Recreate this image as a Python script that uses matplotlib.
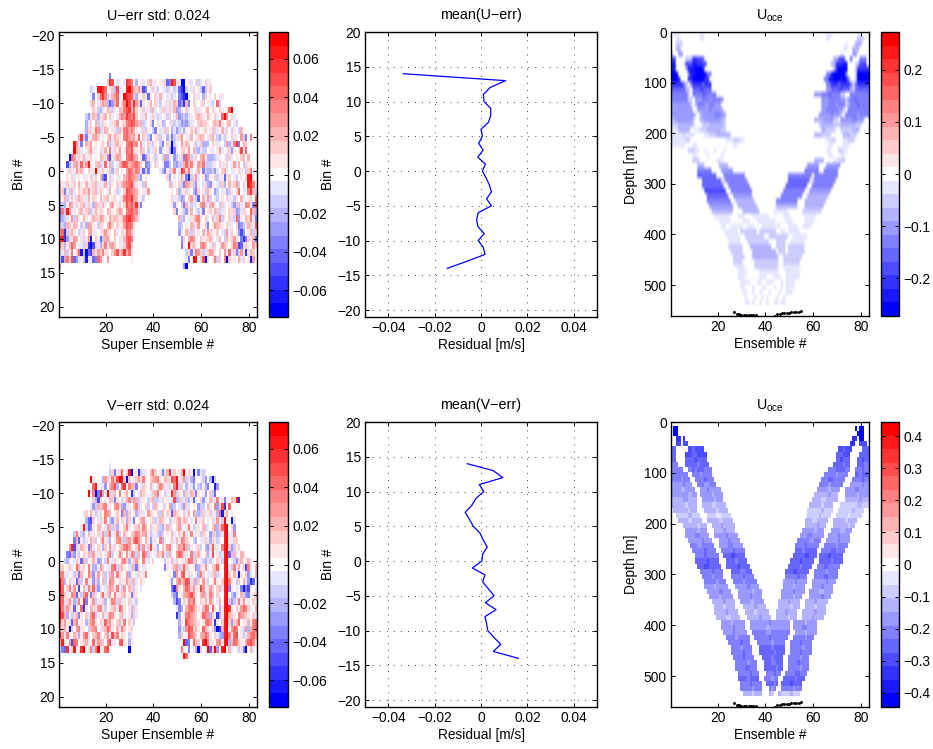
import re
import numpy as np
import matplotlib
matplotlib.use('Agg')
import matplotlib.pyplot as plt
from matplotlib.colors import ListedColormap

plt.rcParams['font.family'] = ['Liberation Sans', 'DejaVu Sans']
plt.rcParams['mathtext.default'] = 'regular'
plt.rcParams['font.size'] = 9.9
plt.rcParams['axes.linewidth'] = 1.0

# cell levels are run-length coded: a..j blue (-1..-10), A..J red (+1..+10), o zero, . no data
# the part after | is aligned to the right edge
# U-err, bins -14 to 14, 83 super ensembles
u_err_rows = [
    "21.e",
    "20. BHGoaAoaHG EocoAaoBCa AoAaBfeIGa ajjoAaoBba oBaA",
    "13. baoIJHFoaB cGaaoIJFCB DBgeoaBabo AabaAbafhj boaBoAbfbA Bo",
    "14. eoBFHEbaCD FaoJHGFBcA oBafAoBaCa oaAbaoeghj aoBAaocBoA oBoaA",
    "13. BCoaBDCcfd CFoBEJGCHD BfaoACoBab oAaBaCBfdh CeoBAoaBoA aboFb",
    "13. oBAbcaoCBb AoCBEGHCFB oaBaAbCaoa BBaBaCdcAo BaoABaAoBC oBAoBaoAFJ",
    "11. bdaCBcABCo BAoaCEDHFE GBoAaCoaBa baoAbBoaCd cbcaAoBCBA oCAoBaoFJE oBa",
    "11. caBoCbaBAo aABDoABEFG FDBCbaoBeo aAcboaBbab dcdbaAoBCB BAoBCBEAoB Coab",
    "10. AcBBAEDbaC BoAabCAEFD ECAoaBbAob eoaAbBocad bacAoBACao ABoAbBaoCa BobAobC",
    "8. CHbeAaCDBo AoBDaCBAoE FDCDAFoBab eoABbAocae baBDoAaCoA BCBoaBCAbc abAoBaAoDb eoE",
    "6. IDaeoCBDoA oABoDbaBCA AoEFGDEoDa oBabAobeoB ajbAoDaCBo AbaBcccoBA aAobDcaEHe oCB",
    "6. JCBaoABDaA oBaCoEaBAD oAFEGBAoCB obAaBodaoA cjeAoBBADo CbcabboAao ADaoaBdAoB GaF",
    "4. jFDaBACaAB oAoCBaEgaB DCAoEFGDCo AfdBoAbAob DcAodbaBeF DbABoCDAcc cbaAoAbBao AoBCoC",
    "3. gcaCDaFBDI AoBCbaFoCb oaCEGFCDEF DBoedaoBao AeebocdbbC FCEAoDCEbb baAoBaABoa DaCobBAAo",
    "1. AoaBAaDBCa oBaAJAaBoa BcaBoAoDFE CEDafbeo | aceAbBEoaH FBEaoaCAeb ccbdaoBCAo aAoBaAbBEa o",
    "oooAoBaoAo aAoBaBoCeg oBaoAaoCDF EDCbdoA | BdoAoaCAeh bBDaoAdcAo BbaAfaBoAb oAoBIJAo",
    "cAaBAaBoCA oCAaBCaAaC AbAoBaCDEF GCaoAbC | CbAoBbeDCB bdAoaBcdAo abBcoCABDb oBoIHEA",
    "bBeabCaoBA CBDABCaBAo aCoAbaoBGF EDCAoAaD | AoBcaABaoc eBoAbCAodb oaAcbAoBFo aAEHCb",
    "cACbaBaBCB AaCoBAoCaB CoABoAaEGF HDCoAbo | BaAbdcoBDA bfoCADboab oAoBaAbAoC aoABoF",
    "dbcADCaBAB CaBAcCBaCA oBDoABoBGE FDHBeo | AdAobeCAba aoDEbaCDAo bBaoAbdbCa oEDAeG",
    "fEbIDaAoBC aBCbaCABAo CBAoBDCoEF GDEao | BeoAbdACoa bAeoABoCBb aAoBaBdcaB AoFCc",
    "ecbaADbCAo CAoaCBBDCA oCBCBABEGH FECa | oCbcoaABDE AoBaoCaBEb AoBabFdAoC BEae",
    "BbcCBaCBob AcDCAobBAo CEBoBAADGF EAo | cboAoCBaDA oBeoADCBAo BaAoBedbaC BaF",
    "CFhbBCAoba BoCDaAoaBD BAoCaoBAFE Cao | dAoCBbBoAo CaDBAoBoab DaBoAdgdoA CbB",
    "GIhdBaDCoa BaDioBafbC DAoBoaACFG Ea | dBoCEDAoBA ABCAoaCobC ABDaoeheBA Cf",
    "EBcACFDoAa bBhjgBacBE aCDBoAaBFG B | eAoJBCAoDE CoAbBoaDCA oBEDgfaBAo DB",
    "BaCbAEoBFi bjfgCaDBEA AoBDGBDHCF A | bBeAEDBbaB DCAoBoDaFa BebDAhaCBo",
    "1. gDEBGfdaAb iaAfeFDAoD 9. A 22. aeoJIoBGja oAEbBoEjBo AoCaBoAiD",
    "D 51. dj",
]

# V-err, same layout
v_err_rows = [
    "21.a",
    "21. bBeABFoBIj oAhbaAoCEB oAeaCHaBoA CJoBAjoeab Ao",
    "13. JAooocDBAE BGJIBjBoaB DAEAoBCDEA oCBAGFIaBD bAceAoAbdo cjbo",
    "13. oFIoaAdoCE GcoFHoECCe oaBAoCaoBE CAaBoEIbBo cAadobcAce ooid",
    "12. JoEjeIcAJb BCoEoACohb oaCBAoaBCE AobAoHDbAo cBaCBeAoAd oBbfo",
    "14. BcgBoAoCBe aoBaCEbDCb aAobBCbbaB oAoaGcbBab cAfaoBdaoC BaEoAeAoCB Ih",
    "11. ooAdbCBDEa AoDEBcdaAo CEbaoBbobC AoaBoDcboa bdBaoAodbb oCAoEdBGho Fo",
    "10. aBoCAbaBoE DCoABAeCcB oAcBaaoDBA oBbCoBAfCB AoBaCoDbcb BaABaAcFia CoA",
    "11. cfgBoaBAEo bdaCoBAcBa eoACDaoABb aCBAobaABD ACBoaoEaAB oAoBaDAbJA oia",
    "8. oAIbfeAoCB oaDCbBcAoB EAoaBCAECo BaABbcaCBA oBDaoAEoba AoCbaoBDcB FoaoBd | IJ 12.",
    "6. bEAbcoCaAo BaDbCFaAEb oCAoBCEDBC DAbaAbcBoA oCaoBAEaoE oaAbBAodbB cbaoBaaE | IJ 12.",
    "6. eCfAbaoCBb oBEaBcoADE BbCDAEGDBo CAdaAoEcAo ABaCAEDBAo bcoAaBacBA baoBeAaBB | IJ 12.",
    "4. DIgBaCBAeD aoBAcBoDaB oBCEFDAoBE bDaBGAacoB ADEaoBDCFC bAoaBbocdB FaAoEboBdb AB | IJ 12.",
    "3. efCdAboBAC bDAaBoACEb oAEBoDAEDb CoFDbAoaCB EAbCaoDFEB aoEbBCAoBc aGoAbaCbfb CaoCB | IJ 12.",
    "2. bcAoaBAfCb oACAdcobEo aBAoDEBcAB DAoEAaoB | bAoCaBoA aBFEbCoAbc abAoBAbIJo AbdBCoaCAo 1.",
    "oBoABaoFCA BoEAccaDBo aAEFbBCAoa bCeBoaA | oeAoaCDbBF BAoAdcBADa oBCFAoIJab EaCoBgEAoC",
    "CEAaoAbBeC AoECdaDoBb aCDaEBAoDc AoaBAaE | AoeDAFG oBaoAcEBoa aBCbaoIJBo CaiAoBdaoC",
    "JEcoBaAfCb oEaAdBcoCb oEDAoBaADB bCaoBA | AdoCEBD GFaCcBoDAb oAEAoBIJEA obBoCadhfo",
    "JFoBEaDAgo CaEBFbdAoa BDCaEAbDoC BbAoa | ehEAoC FEBDaAGDaA DBoBCaIJeA oaoeiegAoa",
    "IFBAoEDfAb DFaeCaoBFA bDoEAaBCoA eBAo | bdfoAC DEGDAoCDbA ECoBaoIJob daoCbdeoAB",
    "GFaBDAcbEo HeoADbAaBc oAEDbCaAoB aAb | cgeoB AEDFAoBACa DBoaCoIJbd baEADoAoBa",
    "JEbDBAfaoF hAoCBaDEAb oABCaFDAoa CbA | aeco CEFDBAoCFE oFAocAIJHA oBADFEBaoC",
    "JGCcAbBCeA oBaDFbAoCa BEDAoBCaoA cBa | hcoA EFDCBoAFED cBohcAIJCB AoEDCBAoBa",
    "GBDAafCEoA ocBDEAoBaF CDAoBCaEoB Ab | cAo GEDCBAoAEF DAhaoBIJBd BCFoAaCoEF",
    "EBCAjBoDEa AobCDEoaBC FDAoCaEBoA B | dab DGFBCAoFCB oBdjhCIJaD FEoAbDcCEF",
    "HDaEAoCBcA DFaoBCEAoB DaGCEoBAob A | cBo AGEDBoCDFD AoBacdIJEA FGoAbaCEFD",
    "oIAoDgFEoA BCaoFADCBo EGaAoFGAoc A | J feoFCBoHJE aAoDEAIJcC FEBAoCFGEA",
    "1. efHoBIoAHJ oaEbEJoAFG 8. j | E AoeoAcjBoA JfBJdoIJoC aoAbAejoCa 1.",
    "a 51. IF",
]

# U_oce, 10 m bins from 5 m down
u_oce_rows = [
    "1.3a8.2a|3a10.2a3.",
    "2.2a8.2a|2a11.3b2.",
    "2.3b|1a3.3c3.",
    "2.2c|2a2.3c4.",
    "1b2.2d|1a4.2d5.",
    "2g4.2b1c2h2g1f|2c1f2g2.1f3.3e1.",
    "2i3.1a3g2i2h2g|2c3h2i3.1a1c3g1.",
    "2i4.1c3i3j1i|1c1h4j3.1b5h",
    "3j4.1e2i4j1i2e|2e1i5j1e3.1b5j",
    "3j1h3.2h5j2h|2e2i3j1i1j1i1e2.1b5j",
    "5h1e1b1.1e4h1f3h|2e3h1f4h1e1b1e5h",
    "6f1c1b1.3f2g3f|2d3f2g3f1c1b1e5f",
    "7e1b1.4e2f4e|3d3e1f4e2b2.8e",
    "7e2b1.3d3e1d4e1d|3d5e2d1b1d2e1f5e",
    "8d1b1.1c3e2d2e3d|3d3e1d3e1b1c3e1f4e",
    "9d2.5d1e4d1c|2d5e2d1b1.9e",
    "10d1a1.1c5d3e2d|5d1e3d1b1.5e1d4e",
    "2c7d1b2.2c7d1c1b|4c4d2b1.5d2e3d2.",
    "3b6c1b3.3b6c1b|1b5c2b1b6c3b3.",
    "3a5c2.2a3b6c2b|2c4b2.5b3c4.",
    "5a1b4a4.2a3b6c|3c4b5.3c3b5.",
    "6a2b15.3a3b2a|2a2b3.2a3b6.",
    "6a3o2a15.2a|2a4.3a8.",
    "7.3b2a2.1a3.1a3.1a|2a3.2b2a9.",
    "9.2a4.1a5.1a|2a3.2a10.",
    "9.3b7.3a|4c4.2a3b10.",
    "11.3c6.4c|5d3.6d12.",
    "11.6e4.5d|6e2.6e13.",
    "11.8f3.9e|10e1.10e13.",
    "13.8f1a1b9e|9f1a1b9e14.",
    "13.9f2.9e|9f2.9e15.",
    "14.9g2.9e|9e2.9d16.",
    "15.9f2.8d|9e2.9c17.",
    "15.10e2.8c|9e3.9c18.",
    "16.10d2.8c|9c3.8c19.",
    "17.9c4.7c|6a6.8b20.",
    "18.7a3.3a3.7a6.3a6.5a",
    "20.5a5.3a3.8a4.3a5.4a",
    "21.2a2.5a2.3a3.8a3.4a2.4a",
    "22.6a1.7b1.7b2.2a1.5a",
    "23.6a2.8b2.8b2.6a",
    "24.5a3.9b3.4b2.6a",
    "24.6b3.9c2.4b1.7b",
    "25.5b4.10c1.3b1.7b",
    "26.5b3.11c2.8b",
    "26.4b5.10b2.7b",
    "27.4a4.10b2.7a",
    "28.4a5.8a3.6a",
    "28.3a6.3a3.3a2.6a",
    "29.4a3.2a2.3a3.1a1.4a",
    "29.2a3.1a3.2a3.1a2.1a1.4a",
    "30.2a2.1a2.1a3.1a3.1a2.3a",
    "31.1a3.1a2.1a1.1a3.1a2.1a",
    "31.1a1a1.1a2.1a2.1a2.1a1a1.1a1a",
]

# V_oce, 10 m bins from 5 m down
v_oce_rows = [
    "",
    "1.2j74.1j1.2j",
    "1.2j75.3j",
    "2.2h1.1h70.2h1.2j",
    "2.2g1.2g68.2h2.3g",
    "2f5.2g1f4g56.2g1f3g4.3f",
    "2f4.3g2f4g54.3f3g4.4f",
    "2f4.4f1g4f54.2f1g3f3.2f1g2f",
    "3e3.5f1e4f52.4f1e2f3.3f2e",
    "5e2.2e1f1e3f3e49.3e4f2e2.3e1f2e",
    "7e2.3e1d4e47.5e1d4e3.2f1e3f",
    "4e1d3e2.4e1f3e45.3e2f5e3.4e1f2e",
    "5d1e3d2.3e2d3e43.4e1d5e3.5d1e2d",
    "4d2c4d2.3d1e5d40.5d1c4d2.4d2e4d",
    "7d2c2d1.5d1c4d38.6c1d3c3.5d1c4d",
    "5c2d4c2.5d1c3d37.4c2b5c3.6c1d3c",
    "6c1b4c2.4c2b4c35.5c1b4c3.7b2c3b",
    "1.6c1b3c3.5c1b4c33.6b1c4b2.6b1c4b",
    "2.5b2c3b3.4b2a4b32.5b1c4b2.5b1a5b",
    "3.4c2b4c2.5c2b4c30.3c2b5c2.5c1b4c",
    "5.6c1b3c2.4c1d5c29.5c1d3c3.6c1b2c",
    "6.5d1c3d3.4c1d4c28.5d1c3d3.4d2c3d",
    "6.4d2e4d2.5d1e4d26.3d2e5d2.4d1e4d",
    "7.6d1e3d3.4d1e4d24.5e2d3e2.5d1e4d",
    "8.3e2d5e2.4d2e4d22.4e1f5e2.5e1d4e",
    "9.5e1f4e2.5e1f4e21.3f1e5f2.4e2f4e",
    "10.4e1f5e2.3f2g4f20.5f2g3f1.4f1g5f",
    "10.5f1g4f3.4f1e4f18.4f1g5f2.5f1e4f",
    "11.3f2g5f2.5f1g4f16.5f1e4f2.3e2f5e",
    "12.5e1f4e3.4f2e3f14.3f2g5f2.5e1d4e",
    "13.4e1d4e3.5e1f4e13.5e1f3e3.4e2f4e",
    "14.5e1d3e3.4e1d5e11.5d1e4d2.6d1e3d",
    "14.4d1c5d3.5d1e4d10.4d1c4d3.4d1e4d",
    "15.5d2e3d3.6d1c3d8.5d1e4d2.4d2c4d",
    "16.4d1c5d2.5d1e4d8.5d1c3d3.5d1e3d",
    "17.5c1d4c2.4d2c4d6.4c1d4c2.4c1d5c",
    "18.4c1b4c3.5c1d4c5.5c1b3c2.4c1b4c",
    "18.5c1d4c3.4c1b5c3.4c1d4c2.5c1d4c",
    "19.4c2b4c3.5c1d4c2.5c1b3c2.4c1d4c",
    "21.4d1c5d2.8d1e8d1.5d1c4d",
    "21.5d1e4d2.7d1c9d1.4d2e4d",
    "22.4d1e5d2.6e2d8e2.4d1c4d",
    "23.4e1d5e2.6e1f7e2.5e1d3e",
    "24.5e1f3e3.6e1d5e2.4e1f4e",
    "25.4e1d4e3.5f1e5f2.5e1d3e",
    "25.5e1f3e3.6f1e4f2.4e1f4e",
    "26.4e1f4e3.4f1e4f2.5e1d3e",
    "27.5e1d3e3.3f2e3f2.4e1f4e",
    "27.4e2f3e3.5f1e2f2.5e1d3e",
    "28.5e1f3e3.3e1f2e2.4e2f3e",
    "28.4f1e4f2.3e1d2e2.5f1e3f",
    "29.4e1f4e2.3f1e1f1.4f1g4f",
    "29.5e1d3e3.1e1d1e2.5e1d3e",
    "30.4c1b3c3.1c1b2.1c4b1c3b",
]

# black dots at the bottom of the two right panels
dot_ens = [27, 28, 29, 30, 31, 32, 33, 34, 35, 36, 37, 44, 45, 46, 47, 48, 49, 50, 51, 52, 53, 54, 55]
dot_depth = [553, 557, 558, 559, 559, 559, 559, 559, 559, 560, 562, 561, 558, 557, 556, 556, 555, 555, 554, 554, 553, 553, 552]

bins = [14, 13, 12, 11, 10, 9, 8, 7, 6, 5, 4, 3, 2, 1, 0, -1, -2, -3, -4, -5, -6, -7, -8, -9, -10, -11, -12, -13, -14]
u_mean = [-0.0335, 0.0106, 0.0039, 0.001, 0.0013, 0.0042, 0.0042, 0.0032, 0.0, 0.0006, -0.001, 0.0009, -0.0014, 0.0019,
          0.0006, 0.0022, 0.0036, 0.0045, 0.0024, 0.0045, -0.0012, -0.0019, -0.0013, 0.0014, -0.0012, 0.001, 0.0017,
          -0.0062, -0.0145]
v_mean = [-0.0059, 0.0053, 0.0094, -0.0007, 0.0012, -0.0022, -0.004, -0.0068, -0.005, -0.0033, -0.0004, 0.001, 0.0027,
          0.0007, 0.0004, -0.0037, 0.0017, 0.0007, 0.0032, 0.0056, 0.0019, 0.0065, 0.0017, 0.0024, 0.0029, 0.0056,
          0.0085, 0.0053, 0.0161]

W, H = 933, 749
BLUES = 'abcdefghij'
REDS = 'ABCDEFGHIJ'
colors = [(1 - k / 10, 1 - k / 10, 1.0) for k in range(10, 0, -1)] + [(1, 1, 1)] + \
         [(1.0, 1 - k / 10, 1 - k / 10) for k in range(1, 11)]
cmap = ListedColormap(colors)
cmap.set_bad('white')


def expand(part):
    cells = []
    for n, c in re.findall(r'(\d*)([a-jA-Jo.])', part.replace(' ', '')):
        cells += [c] * (int(n) if n else 1)
    return cells


def decode(rows):
    out = np.full((len(rows), 83), np.nan)
    for i, row in enumerate(rows):
        parts = row.split('|')
        placed = [(0, expand(parts[0]))]
        if len(parts) > 1:
            right = expand(parts[1])
            placed.append((83 - len(right), right))
        for start, cells in placed:
            for pos, c in enumerate(cells, start):
                if pos >= 83 or c == '.':
                    continue
                if c == 'o':
                    out[i, pos] = 0
                elif c in BLUES:
                    out[i, pos] = -(BLUES.index(c) + 1)
                else:
                    out[i, pos] = REDS.index(c) + 1
    return out


def px_axes(left, top, right, bottom):
    return fig.add_axes([left / W, 1 - bottom / H, (right - left) / W, (bottom - top) / H])


def box_ticks(ax):
    ax.tick_params(direction='in', top=True, right=True, length=3, width=0.7, pad=3, labelsize=9.9)


def add_colorbar(im, left, top, right, bottom, ticks, labels):
    cax = px_axes(left, top, right, bottom)
    fig.colorbar(im, cax=cax)
    cax.set_yticks(ticks)
    cax.set_yticklabels(labels)
    cax.tick_params(direction='in', left=True, right=True, length=3, width=0.7, pad=3, labelsize=9.9)


def err_panel(rows, top, bottom, name):
    ax = px_axes(59, top, 257, bottom)
    vmax = 0.074
    data = np.full((42, 83), np.nan)
    data[6:35] = decode(rows) * vmax / 10.5
    im = ax.imshow(data, cmap=cmap, vmin=-vmax, vmax=vmax, aspect='auto', interpolation='nearest',
                   extent=[0.5, 83.5, 21.5, -20.5])
    ax.set_yticks(range(-20, 21, 5))
    ax.set_xticks([20, 40, 60, 80])
    box_ticks(ax)
    ax.set_xlabel('Super Ensemble #', labelpad=2)
    ax.set_ylabel('Bin #', labelpad=4)
    ax.set_title(name + ' std: 0.024', fontsize=10.3, pad=9)
    add_colorbar(im, 269, top, 288, bottom, [-0.06, -0.04, -0.02, 0, 0.02, 0.04, 0.06],
                 ['\u22120.06', '\u22120.04', '\u22120.02', '0', '0.02', '0.04', '0.06'])


def mean_panel(values, top, bottom, name):
    ax = px_axes(365, top, 597, bottom)
    ax.plot(values, bins, color='#0000ff', lw=0.9)
    ax.set_xlim(-0.05, 0.05)
    ax.set_ylim(-21, 20)
    ax.set_xticks([-0.04, -0.02, 0, 0.02, 0.04])
    ax.set_xticklabels(['\u22120.04', '\u22120.02', '0', '0.02', '0.04'])
    ax.set_yticks(range(-20, 21, 5))
    ax.grid(True, color='black', linestyle=(0, (1, 7.5)), linewidth=0.6)
    box_ticks(ax)
    ax.set_xlabel('Residual [m/s]', labelpad=2)
    ax.set_ylabel('Bin #', labelpad=2)
    ax.set_title('mean(' + name + ')', fontsize=10.3, pad=9)


def oce_panel(rows, top, bottom, vmax, ticks, labels, smooth):
    ax = px_axes(671, top, 869, bottom)
    data = decode(rows) * vmax / 10.5
    if smooth:
        data = np.nan_to_num(data)
    im = ax.imshow(data, cmap=cmap, vmin=-vmax, vmax=vmax, aspect='auto',
                   interpolation='bilinear' if smooth else 'nearest',
                   extent=[0.5, 83.5, len(rows) * 10, 0])
    ax.plot(dot_ens, dot_depth, 'k.', ms=2.2)
    ax.set_xlim(0.5, 83.5)
    ax.set_ylim(561, 0)
    ax.set_xticks([20, 40, 60, 80])
    ax.set_yticks(range(0, 501, 100))
    box_ticks(ax)
    ax.set_xlabel('Ensemble #', labelpad=2)
    ax.set_ylabel('Depth [m]', labelpad=4)
    ax.set_title(r'U$_{oce}$', fontsize=10.3, pad=9)
    add_colorbar(im, 881, top, 899, bottom, ticks, labels)


fig = plt.figure(figsize=(W / 100, H / 100), dpi=100)

err_panel(u_err_rows, 32, 317, 'U\u2212err')
err_panel(v_err_rows, 422, 707, 'V\u2212err')
mean_panel(u_mean, 32, 317, 'U\u2212err')
mean_panel(v_mean, 422, 707, 'V\u2212err')
oce_panel(u_oce_rows, 32, 316, 0.273, [-0.2, -0.1, 0, 0.1, 0.2],
          ['\u22120.2', '\u22120.1', '0', '0.1', '0.2'], True)
oce_panel(v_oce_rows, 422, 707, 0.445, [-0.4, -0.3, -0.2, -0.1, 0, 0.1, 0.2, 0.3, 0.4],
          ['\u22120.4', '\u22120.3', '\u22120.2', '\u22120.1', '0', '0.1', '0.2', '0.3', '0.4'], False)

# figure title is cut off by the top edge, only the descenders are left
fig.text(327 / W, 1 + 6 / H, 'p', fontsize=13, fontweight='bold', ha='center', va='baseline')
fig.text(606 / W, 1 + 6 / H, 'g', fontsize=13, fontweight='bold', ha='center', va='baseline')

fig.savefig('out.png', dpi=100)
